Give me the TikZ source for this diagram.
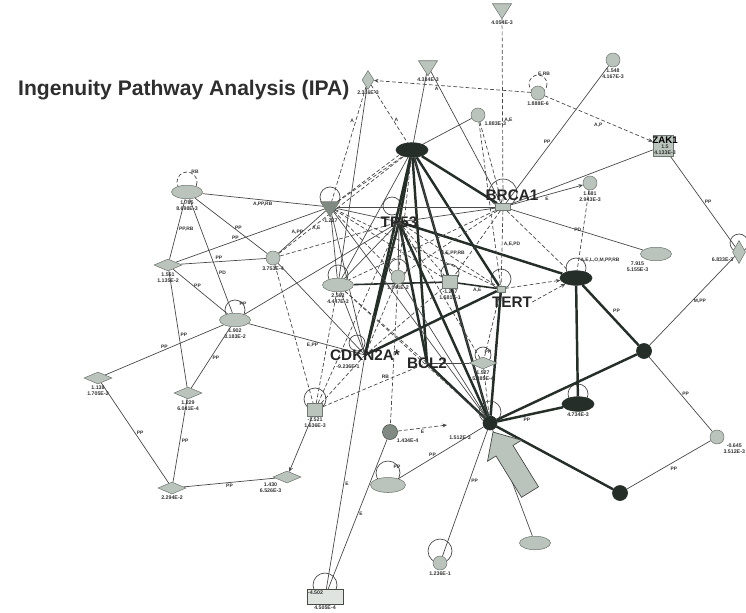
\documentclass[tikz,border=0pt]{standalone}
\usepackage{fontspec}
\setmainfont{Liberation Sans}
\usetikzlibrary{arrows.meta, positioning, calc, shapes.geometric, backgrounds}

\definecolor{nodegrey}{RGB}{186,196,188}
\definecolor{nodemid}{RGB}{128,138,130}
\definecolor{nodedark}{RGB}{38,46,42}
\definecolor{edgegrey}{RGB}{72,74,72}

% 自环:圆心在节点上方,底部穿过节点中心
\newcommand{\nodeloop}[3][thn]{\draw[#1] ($(#2.center)+(0,-#3)$) circle[radius=#3];}

\begin{document}
\begin{tikzpicture}[x=0.02cm, y=-0.02cm, % 以像素为单位,y轴向下
  thn/.style={draw=edgegrey, line width=0.4pt},
  thk/.style={draw=nodedark, line width=1.4pt},
  mid/.style={draw=nodedark, line width=0.9pt},
  dsh/.style={draw=edgegrey, line width=0.4pt, dash pattern=on 2.2pt off 1.3pt},
  tip/.style={-{Stealth[length=2.6pt,width=2.2pt]}},
  gnode/.style={fill=nodegrey, draw=nodegrey!60!black, line width=0.3pt, inner sep=0},
  gell/.style={gnode, ellipse, minimum width=0.62cm, minimum height=0.27cm},
  gcirc/.style={gnode, circle, minimum size=0.28cm},
  gdia/.style={gnode, diamond, aspect=2.3, minimum width=0.56cm, minimum height=0.24cm},
  gdrop/.style={gnode, diamond, aspect=0.6, minimum width=0.24cm, minimum height=0.38cm},
  gtri/.style={gnode, isosceles triangle, shape border rotate=270, isosceles triangle apex angle=65, minimum size=0.3cm},
  gsq/.style={gnode, rectangle, minimum width=0.3cm, minimum height=0.26cm},
  bell/.style={fill=nodedark, draw=nodedark, ellipse, inner sep=0, minimum width=0.64cm, minimum height=0.29cm},
  bcirc/.style={fill=nodedark, draw=nodedark, circle, inner sep=0, minimum size=0.3cm},
  gene/.style={font=\bfseries\fontsize{8.7}{9}\selectfont, text=black!85, inner sep=0},
  val/.style={font=\bfseries\fontsize{3}{3.4}\selectfont, text=black!80, align=center, inner sep=0.6pt},
  elab/.style={font=\bfseries\fontsize{2.8}{3}\selectfont, text=black!80, inner sep=0.8pt},
]
\useasboundingbox (0,0) rectangle (746,612); % 与原图同比例

% 标题
\node[font=\bfseries\fontsize{12}{14}\selectfont, text=black!82, anchor=west] (title) at (12,90) {Ingenuity Pathway Analysis (IPA)};

% ---------- 上部节点 ----------
\node[gtri, label={[val]below:4.054E-3}] (tri2) at (502,9) {};
\node[gtri, label={[val]below:4.334E-3}] (tri1) at (428,66) {};
\node[gdrop, label={[val]below:2.316E-3}] (drop) at (368,80) {};
\node[gcirc, label={[val]below right:1.883E-3}] (cir1) at (478,115) {};
\node[gcirc, label={[val]below:1.888E-6}] (cirE) at (538,93) {};
\node[gcirc, label={[val]below:1.548\\4.167E-3}] (cirTop) at (613,60) {};
\node[bell] (topEl) at (412,150) {};
\node[gnode, minimum width=0.3cm, minimum height=0.14cm] (brcaN) at (503,207) {};
\node[gsq, minimum width=0.4cm, minimum height=0.42cm] (zak) at (663,146) {};
\node[font=\bfseries\fontsize{5.5}{6}\selectfont, inner sep=0] (zakL) at (665,140) {ZAK1};
\node[val, below=0pt of zakL] (zakV) {1.5\\4.133E-3};
\node[gcirc, label={[val]below:1.681\\2.943E-3}] (cirU) at (590,183) {};
\node[gell, label={[val]below left:7.915\\5.155E-3}] (elV) at (656,254) {};
\node[gdrop, minimum width=0.26cm, minimum height=0.46cm, label={[val]below left:6.833E-3}] (dropW) at (739,252) {};

% ---------- 中部节点 ----------
\node[gell, label={[val]below:1.785\\8.698E-3}] (elA) at (187,192) {};
\node[gdia, label={[val]below:1.551\\1.135E-2}] (dmB) at (168,265) {};
\node[gcirc, label={[val]below:3.753E-4}] (cirC) at (273,258) {};
\node[gtri, fill=nodemid, label={[val]below:-1.227}] (triL) at (330,207) {};
\node[gell, label={[val]below:2.563\\4.447E-3}] (elE) at (338,285) {};
\node[gcirc, label={[val]below:1.041E-2}] (cirY) at (398,277) {};
\node[gsq, label={[val]below:-1.207\\1.581E-1}] (sqZ) at (450,282) {};
\node[gnode, minimum width=0.16cm, minimum height=0.12cm] (tertN) at (501,289) {};
\node[gell, label={[val]below:1.902\\3.183E-2}] (elD) at (235,320) {};
\node[bell] (elT) at (576,278) {};
\node[bcirc] (cirP) at (644,351) {};
\node[gdia, label={[val]below:1.527\\5.385E-4}] (dmX) at (483,363) {};

\node[gene] (tp53) at (399,222) {TP53};
\node[gene] (brca) at (512,195) {BRCA1};
\node[gene] (tert) at (512,302) {TERT};
\node[gene] (cdkn) at (365,355) {CDKN2A*};
\node[val] (cdknV) at (348,367) {-9.236E-1};
\node[gene] (bcl2) at (427,363) {BCL2};

% ---------- 左下与下部节点 ----------
\node[gdia, label={[val]below:1.138\\1.705E-2}] (dmF) at (98,378) {};
\node[gdia, label={[val]below:1.229\\6.041E-4}] (dmG) at (188,393) {};
\node[gsq, label={[val]below:-1.521\\1.636E-3}] (sqH) at (315,410) {};
\node[gdia, label={[val]below left:1.430\\6.526E-3}] (dmI) at (287,477) {};
\node[gdia, label={[val]below:2.294E-2}] (dmJ) at (172,488) {};
\node[circle, fill=nodemid, draw=nodemid!70!black, inner sep=0, minimum size=0.3cm, label={[val]below right:1.434E-4}] (cirK) at (390,432) {};
\coordinate (kEnd) at (447,425);
\node[gell, minimum width=0.7cm, minimum height=0.3cm] (elL) at (388,485) {};
\node[bcirc, minimum size=0.28cm] (hub) at (490,423) {};
\node[bell, label={[val]below:4.734E-3}] (elO) at (578,404) {};
\node[bcirc] (cirR) at (620,493) {};
\node[gcirc, label={[val]below right:-0.645\\3.512E-3}] (cirQ) at (717,437) {};
\node[gell] (elS) at (535,543) {};
\node[gcirc, label={[val]below:1.236E-1}] (cirM) at (440,563) {};
\node[rectangle, fill=nodegrey!45, draw=edgegrey, line width=0.4pt, minimum width=0.72cm, minimum height=0.3cm] (boxN) at (325,597) {};
\node[val, anchor=north west] (boxV) at (boxN.north west) {-4.502};
\node[val, below=0pt of boxN.south] (boxV2) {4.505E-4};

% 大箭头(指向中心节点)
\filldraw[fill=nodegrey, draw=edgegrey, line width=0.4pt] (493,432) -- (521.5,440.2) -- (513,445.5) -- (538.5,486.8) -- (521.5,497.3) -- (496,456) -- (487.5,461.2) -- cycle;

% ---------- 连线 ----------
\begin{scope}[on background layer]
% 自环
\nodeloop[dsh]{elA}{10} \nodeloop[dsh]{cirE}{9} \nodeloop{triL}{10}
\nodeloop{elE}{10} \nodeloop{cirY}{9} \nodeloop{sqZ}{9} \nodeloop{tertN}{10}
\nodeloop{elT}{10} \nodeloop{elO}{10} \nodeloop{hub}{11} \nodeloop{dmX}{8}
\nodeloop{dropW}{9} \nodeloop{elD}{10} \nodeloop{sqH}{11} \nodeloop{elL}{12}
\nodeloop{cirM}{12} \nodeloop{boxN}{12} \nodeloop{brcaN}{14}
\draw[thn] (392,206) circle[radius=9];
\draw[thn] (357,343) circle[radius=8];
\node[elab] at (195,172) {RB};
\node[elab] at (544,74) {E,RB};
\node[elab] at (243,304) {PP};
\node[elab] at (397,467) {PP};
\node[elab] at (600,260) {A,E,L,O,M,PP,RB};
\node[elab] at (488,352) {PP};

% 粗线
\draw[thk] (topEl) -- (tp53.center);
\draw[thk] (topEl) -- (cdkn.center);
\draw[thk] (topEl) -- (bcl2.center);
\draw[thk] (topEl) -- (tertN);
\draw[thk] (topEl) -- (brcaN);
\draw[thk] (topEl) -- (hub);
\draw[thk] (tp53.center) -- (elT);
\draw[thk] (tp53.center) -- (cdkn.center);
\draw[thk] (tp53.center) -- (hub);
\draw[thk] (tp53.center) -- (bcl2.center);
\draw[thk] (cdkn.center) -- (tertN);
\draw[thk] (tertN) -- (hub);
\draw[thk] (bcl2.center) -- (hub);
\draw[thk] (elT) -- (elO);
\draw[thk] (elT) -- node[elab, above right]{PP} (cirP);
\draw[thk] (hub) -- node[elab, below, pos=.45]{PP} (elO);
\draw[thk] (hub) -- (cirP);
\draw[thk] (hub) -- (cirR);
\draw[mid] (elE) -- (sqZ);
\draw[mid] (sqZ) -- node[elab, below]{A,E} (tertN);

% 上部
\draw[dsh, tip] (cirE) -- node[elab, below, pos=.6]{A} (drop);
\draw[dsh] (tri2) -- node[elab, right, pos=.55]{A,E} (brcaN);
\draw[dsh, tip] (cirE) -- node[elab, below left, pos=.55]{A,P} (zak);
\draw[thn] (brcaN) -- node[elab, left, pos=.45]{PP} (cirTop);
\draw[thn] (brcaN) -- (zak);
\draw[thn, tip] (brcaN) -- node[elab, below]{E} (cirU);
\draw[thn] (brcaN) -- (elV);
\draw[dsh] (cirU) -- node[elab, left]{PD} (elT);
\draw[dsh] (brcaN) -- (elT);
\draw[thn] (zak) -- node[elab, right]{PP} (dropW);
\draw[thn] (cirP) -- node[elab, right]{M,PP} (dropW);
\draw[thn] (cirP) -- node[elab, right]{PP} (cirQ);
\draw[thn] (cirR) -- node[elab, below right]{PP} (cirQ);
\draw[thn] (tri1) -- (topEl);
\draw[thn] (tri1) -- (brcaN);
\draw[thn] (cir1) -- (topEl);
\draw[dsh] (cir1) -- (brcaN);
\draw[dsh] (cir1) -- (tertN);
\draw[dsh] (drop) -- node[elab, left, pos=.3]{A} (triL);
\draw[thn] (drop) -- (elE);
\draw[dsh] (drop) -- node[elab, right, pos=.6]{A} (topEl);

% 左侧
\draw[thn] (triL) -- node[elab, below]{A,PP,RB} (elA);
\draw[thn] (triL) -- node[elab, above, pos=.6]{PP} (dmB);
\draw[thn] (triL) -- node[elab, above, pos=.6]{A,PP} (cirC);
\draw[thn] (elA) -- node[elab, right]{PP,RB} (dmB);
\draw[thn] (elA) -- node[elab, right, pos=.65]{PD} (elD);
\draw[thn] (elA) -- node[elab, above, pos=.6]{PP} (cirC);
\draw[thn] (dmB) -- node[elab, above, pos=.45]{PP} (cirC);
\draw[thn] (dmB) -- node[elab, above, pos=.45]{PP} (elD);
\draw[thn] (dmB) -- node[elab, right, pos=.55]{PP} (dmG);
\draw[thn] (elD) -- node[elab, above, pos=.5]{PP} (dmF);
\draw[thn] (elD) -- node[elab, right, pos=.5]{PP} (dmG);
\draw[thn] (elD) -- node[elab, below, pos=.55]{E,PP} (cdkn.center);
\draw[thn] (elD) -- (tp53.center);
\draw[thn] (dmF) -- node[elab, right]{PP} (dmJ);
\draw[thn] (dmG) -- node[elab, right]{PP} (dmJ);
\draw[thn] (dmJ) -- node[elab, below]{PP} (dmI);
\draw[thn, tip] (sqH) -- (dmI);
\draw[thn] (cirC) -- (cdkn.center);
\draw[dsh] (cirC) -- (sqH);
\draw[dsh] (cirC) -- node[elab, below, pos=.3]{A,E} (topEl);
\draw[dsh] (cirC) -- (tp53.center);
\draw[dsh] (sqH) -- (cdkn.center);
\draw[dsh] (sqH) -- (tp53.center);
\draw[dsh] (sqH) -- (elE);
\draw[dsh] (sqH) -- node[elab, above, pos=.6]{RB} (bcl2.center);

% 下部
\draw[thn] (cdkn.center) -- node[elab, right, pos=.55]{E} (boxN);
\draw[thn] (cirK) -- node[elab, right, pos=.5]{E} (boxN);
\draw[dsh] (cirY) -- (cirK);
\draw[dsh, tip] (cirK) -- node[elab, below]{E} (kEnd);
\draw[thn] (hub) -- node[elab, above, pos=.6]{PP} (elL);
\node[val] at (460,438) {1.512E-3};
\draw[thn] (hub) -- node[elab, right, pos=.4]{PP} (cirM);
\draw[thn] (hub) -- (elS);
\draw[dsh] (hub) -- (dmX);
\draw[dsh] (dmX) -- (tp53.center);
\draw[thn] (dmX) -- (bcl2.center);

% 中心
\draw[dsh] (triL) -- ([xshift=-1pt]topEl.south west);
\draw[dsh] (triL) -- (topEl);
\draw[thn] (triL) -- (tp53.center);
\draw[thn] (triL) -- (elE);
\draw[thn] (triL) -- (cdkn.center);
\draw[dsh] (triL) -- (sqZ);
\draw[dsh] (triL) -- (tertN);
\draw[dsh] (triL) -- (cirY);
\draw[thn] (triL) -- (brcaN);
\draw[thn] (triL) -- (hub);
\draw[thn] (brcaN) -- (tp53.center);
\draw[dsh] (brcaN) -- (cirY);
\draw[dsh] (brcaN) -- (sqZ);
\draw[dsh] (brcaN) -- node[elab, right, pos=.45]{A,E,PD} (tertN);
\draw[dsh] (brcaN) -- (elE);
\draw[thn] (tp53.center) -- (elE);
\draw[thn] (tp53.center) -- (cirY);
\draw[dsh] (tp53.center) -- (sqZ);
\draw[dsh] (tp53.center) -- node[elab, above, pos=.55]{A,E,PP,RB} (tertN);
\draw[thn] (elE) -- (cdkn.center);
\draw[dsh] (elE) -- (bcl2.center);
\draw[dsh] (elE) -- (hub);
\draw[dsh] (cirY) -- (cdkn.center);
\draw[thn] (cirY) -- (hub);
\draw[thn] (sqZ) -- (hub);
\draw[dsh] (sqZ) -- (cdkn.center);
\draw[dsh, tip] (tertN) -- (elT);
\draw[dsh, tip] (tert.east) -- (elT);
\draw[dsh] (tertN) -- (dmX);
\draw[thn] (topEl) -- (elE);
\draw[thn] (topEl) -- (sqZ);
\draw[dsh] (topEl) -- (cirY);
\end{scope}
\end{tikzpicture}
\end{document}
